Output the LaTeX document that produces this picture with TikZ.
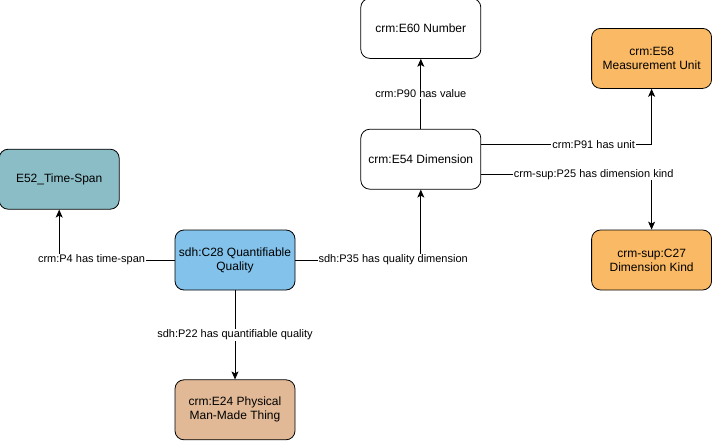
\documentclass[tikz,border=0pt]{standalone}
\usepackage{fontspec}
\setmainfont{Liberation Sans}
\usetikzlibrary{arrows.meta,positioning}
\definecolor{tealbox}{RGB}{139,189,198}
\definecolor{bluebox}{RGB}{130,194,235}
\definecolor{brownbox}{RGB}{225,185,150}
\definecolor{orangebox}{RGB}{250,185,100}

\begin{document}
\begin{tikzpicture}[
  x=1pt, y=1pt,
  cls/.style={draw, rounded corners=9pt, line width=0.8pt,
    font=\fontsize{12}{14}\selectfont,
    minimum width=120pt, minimum height=60pt, align=center},
  lbl/.style={fill=white, inner sep=1pt, font=\fontsize{11}{13}\selectfont},
  arrow/.style={-{Stealth[length=8pt, width=7pt, inset=2pt]}, line width=0.8pt}
]
\useasboundingbox (0,0) rectangle (712,-442);

\node[cls, fill=bluebox] (qual) at (235,-260) {sdh:C28 Quantifiable\\Quality};
\node[cls, fill=tealbox, above left=20pt and 55pt of qual] (tspan) {E52\_Time-Span};
\node[cls, fill=brownbox, below=89pt of qual] (thing) {crm:E24 Physical\\Man-Made Thing};
\node[cls, above right=40pt and 65pt of qual] (dim) {crm:E54 Dimension};
\node[cls, above=70pt of dim] (num) {crm:E60 Number};
\node[cls, fill=orangebox, above right=40pt and 110pt of dim] (unit) {crm:E58\\Measurement Unit};
\node[cls, fill=orangebox, below right=40pt and 110pt of dim] (kind) {crm-sup:C27\\Dimension Kind};

\draw[arrow] (qual.west) -| node[lbl, pos=0.36] {crm:P4 has time-span} (tspan.south);
\draw[arrow] (qual) -- node[lbl] {sdh:P22 has quantifiable quality} (thing);
\draw[arrow] (qual.east) -| node[lbl, pos=0.39] {sdh:P35 has quality dimension} (dim.south);
\draw[arrow] (dim) -- node[lbl] {crm:P90 has value} (num);
\draw[arrow] ([yshift=15pt]dim.east) -| node[lbl, pos=0.33] {crm:P91 has unit} (unit.south);
\draw[arrow] ([yshift=-15pt]dim.east) -| node[lbl, pos=0.33] {crm-sup:P25 has dimension kind} (kind.north);
\end{tikzpicture}
\end{document}
